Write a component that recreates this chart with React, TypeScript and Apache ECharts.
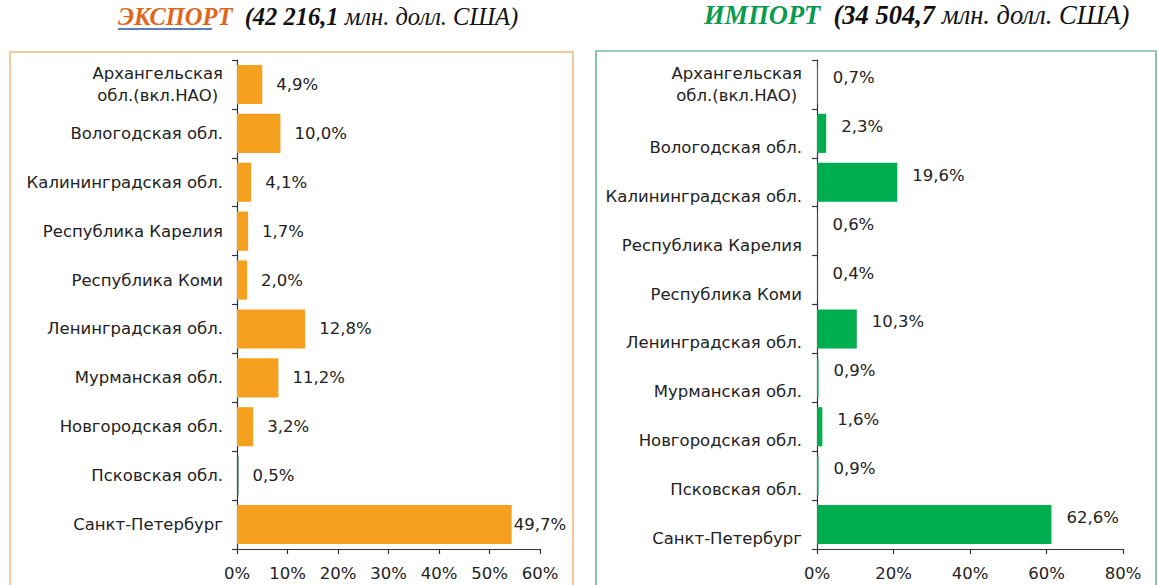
import React, { useEffect, useRef } from "react";
import * as echarts from "echarts";

const categories = [
  "Архангельская\nобл.(вкл.НАО)",
  "Вологодская обл.",
  "Калининградская обл.",
  "Республика Карелия",
  "Республика Коми",
  "Ленинградская обл.",
  "Мурманская обл.",
  "Новгородская обл.",
  "Псковская обл.",
  "Санкт-Петербург",
];

// bar lengths as drawn in the picture (%)
const exportBars = [5.0, 8.6, 2.8, 2.2, 2.0, 13.5, 8.2, 3.2, 0.3, 54.4];
// labels printed next to the bars
const exportLabels = ["4,9%", "10,0%", "4,1%", "1,7%", "2,0%", "12,8%", "11,2%", "3,2%", "0,5%", "49,7%"];

const importBars = [0.2, 2.4, 21.0, 0.1, 0.1, 10.4, 0.4, 1.4, 0.4, 61.3];
const importLabels = ["0,7%", "2,3%", "19,6%", "0,6%", "0,4%", "10,3%", "0,9%", "1,6%", "0,9%", "62,6%"];

const exportTicks = { max: 60, interval: 10 };
const importTicks = { max: 80, interval: 20 };

const FONT = "'DejaVu Sans', 'Liberation Sans', Arial, sans-serif";
const SERIF = "'Liberation Serif', 'Times New Roman', serif";
const FS = 16.5;
const ORANGE = "#f5a01e";
const GREEN = "#00ad4f";

export default function App() {
  const ref = useRef<HTMLDivElement>(null);
  useEffect(() => {
    if (!ref.current) return;
    const chart = echarts.init(ref.current, undefined, { renderer: "svg" });

    const catLabelExport = {
      fontFamily: FONT,
      fontSize: FS,
      color: "#222",
      margin: 14,
      formatter: (v: string) =>
        v.includes("\n")
          ? v.split("\n").map((s) => `{m|${s}}`).join("\n")
          : `{s|${v}}`,
      rich: {
        m: { fontFamily: FONT, fontSize: FS, color: "#222", align: "center", lineHeight: 22 },
        s: { fontFamily: FONT, fontSize: FS, color: "#222" },
      },
    };
    const catLabelImport = {
      ...catLabelExport,
      margin: 15,
      rich: {
        m: { fontFamily: FONT, fontSize: FS, color: "#222", align: "center", lineHeight: 22 },
        s: { fontFamily: FONT, fontSize: FS, color: "#222", padding: [28, 0, 0, 0] },
      },
    };

    const axisLineStyle = { color: "#333", width: 1.2 };
    const valueLabel = { formatter: "{value}%", fontFamily: FONT, fontSize: FS, color: "#222", margin: 16 };

    const option: any = {
      animation: false,
      backgroundColor: "#ffffff",
      grid: [
        { left: 237, top: 60, width: 303, height: 489 },
        { left: 817, top: 60, width: 306, height: 489 },
      ],
      xAxis: [
        {
          gridIndex: 0,
          type: "value",
          min: 0,
          max: exportTicks.max,
          interval: exportTicks.interval,
          splitLine: { show: false },
          axisLine: { show: true, lineStyle: axisLineStyle },
          axisTick: { show: true, length: 5, lineStyle: axisLineStyle },
          axisLabel: valueLabel,
        },
        {
          gridIndex: 1,
          type: "value",
          min: 0,
          max: importTicks.max,
          interval: importTicks.interval,
          splitLine: { show: false },
          axisLine: { show: true, lineStyle: axisLineStyle },
          axisTick: { show: true, length: 5, lineStyle: axisLineStyle },
          axisLabel: valueLabel,
        },
      ],
      yAxis: [
        {
          gridIndex: 0,
          type: "category",
          inverse: true,
          data: categories,
          axisLine: { show: true, lineStyle: axisLineStyle },
          axisTick: { show: true, length: 5, lineStyle: axisLineStyle },
          axisLabel: catLabelExport,
        },
        {
          gridIndex: 1,
          type: "category",
          inverse: true,
          data: categories,
          axisLine: { show: true, lineStyle: axisLineStyle },
          axisTick: { show: true, length: 5, lineStyle: axisLineStyle },
          axisLabel: catLabelImport,
        },
      ],
      series: [
        {
          type: "bar",
          xAxisIndex: 0,
          yAxisIndex: 0,
          barCategoryGap: "20%",
          data: exportBars.map((v, i) => ({
            value: v,
            itemStyle: { color: i === 8 ? "#1f6b50" : ORANGE },
            label: { distance: i === 9 ? 2 : 14 },
          })),
          label: {
            show: true,
            position: "right",
            fontFamily: FONT,
            fontSize: FS,
            color: "#222",
            formatter: (p: any) => exportLabels[p.dataIndex],
          },
        },
        {
          type: "bar",
          xAxisIndex: 1,
          yAxisIndex: 1,
          barCategoryGap: "20%",
          itemStyle: { color: GREEN },
          data: importBars,
          label: {
            show: true,
            position: "right",
            distance: 15,
            offset: [0, -7],
            fontFamily: FONT,
            fontSize: FS,
            color: "#222",
            formatter: (p: any) => importLabels[p.dataIndex],
          },
        },
      ],
      graphic: [
        {
          type: "rect",
          shape: { x: 10, y: 52, width: 563, height: 560 },
          style: { fill: "none", stroke: "#efbb7c", lineWidth: 1.5 },
          silent: true,
        },
        {
          type: "rect",
          shape: { x: 596, y: 51, width: 560, height: 560 },
          style: { fill: "none", stroke: "#3c9c7c", lineWidth: 1.2 },
          silent: true,
        },
        {
          type: "text",
          x: 118,
          y: 16,
          style: {
            text: "{a|ЭКСПОРТ}{b|  (42 216,1 }{c|млн. долл. США)}",
            verticalAlign: "middle",
            rich: {
              a: { fontFamily: SERIF, fontSize: 24.5, fontWeight: "bold", fontStyle: "italic", fill: "#e0661c" },
              b: { fontFamily: SERIF, fontSize: 24.5, fontWeight: "bold", fontStyle: "italic", fill: "#111" },
              c: { fontFamily: SERIF, fontSize: 24.5, fontStyle: "italic", fill: "#111" },
            },
          },
        },
        {
          type: "line",
          shape: { x1: 118, y1: 29, x2: 212, y2: 29 },
          style: { stroke: "#5a7fb8", lineWidth: 2 },
        },
        {
          type: "text",
          x: 704,
          y: 15,
          style: {
            text: "{a|ИМПОРТ}{b|  (34 504,7 }{c|млн. долл. США)}",
            verticalAlign: "middle",
            rich: {
              a: { fontFamily: SERIF, fontSize: 26.5, fontWeight: "bold", fontStyle: "italic", fill: "#0a9a50" },
              b: { fontFamily: SERIF, fontSize: 26.5, fontWeight: "bold", fontStyle: "italic", fill: "#111" },
              c: { fontFamily: SERIF, fontSize: 26.5, fontStyle: "italic", fill: "#111" },
            },
          },
        },
      ],
    };
    chart.setOption(option);
    return () => chart.dispose();
  }, []);
  return (
    <div
      ref={ref}
      style={{ position: "absolute", left: 0, top: 0, width: 1158, height: 585, background: "#fff" }}
    />
  );
}
